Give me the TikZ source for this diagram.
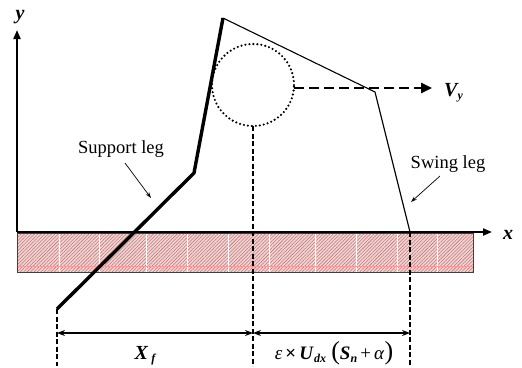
\documentclass[tikz,border=0pt]{standalone}
\usepackage{fontspec}
\setmainfont{Liberation Serif}
\usetikzlibrary{positioning,arrows.meta,patterns.meta}
\definecolor{groundpink}{RGB}{240,212,212}
\definecolor{groundhatch}{RGB}{196,118,118}

\tikzset{
  axis/.style={line width=2pt,-{Triangle[length=9pt,width=7pt]}},
  legline/.style={line width=3.4pt},
  bodyline/.style={line width=1.1pt},
  dropline/.style={line width=1.3pt,dash pattern=on 5pt off 2.5pt},
  dimline/.style={line width=1.2pt,{Stealth[length=8pt,width=6pt]}-{Stealth[length=8pt,width=6pt]}},
  pointer/.style={line width=0.7pt,-{Stealth[length=6pt,width=4pt]}},
  mathlab/.style={font=\fontsize{20}{22}\selectfont\bfseries\itshape},
  leglab/.style={font=\fontsize{18.5}{20}\selectfont}
}
\newcommand{\lowsub}[1]{\raisebox{-0.35ex}{\fontsize{12}{12}\selectfont #1}}

\begin{document}
\begin{tikzpicture}[x=1pt,y=-1pt]
  \useasboundingbox (0,0) rectangle (522,367);

  % ground
  \fill[groundpink] (17,233) rectangle (473,272);
  \fill[pattern={Lines[angle=45,distance=2.4pt,line width=0.55pt]},pattern color=groundhatch]
    (17,233) rectangle (473,272);
  \foreach \gx in {59,99,146,187,228,269,315,356,397,437}
    \draw[white,line width=1pt] (\gx,233) -- (\gx,272);
  \draw[red!40,line width=0.8pt] (17,266) -- (473,266);
  \draw[black!75,line width=0.9pt] (17,233) rectangle (473,272);

  % axes
  \coordinate (o) at (17,232);
  \coordinate (xend) at (492,232);
  \coordinate (yend) at (17,30);
  \draw[axis] (o) -- (xend);
  \draw[axis] (o) -- (yend);
  \node[mathlab,anchor=base] (xlab) at (508,239) {x};
  \node[mathlab,anchor=base] (ylab) at (20,19) {y};

  % legs
  \coordinate (foot) at (57,309);
  \coordinate (knee) at (194,173);
  \coordinate (hip) at (223,18);
  \coordinate (sknee) at (375,92);
  \coordinate (sfoot) at (410,232);
  \draw[legline] (foot) -- (knee) -- (hip);
  \draw[bodyline] (hip) -- (sknee) -- (sfoot);

  % centre of mass and velocity
  \coordinate (com) at (253,85);
  \draw[line width=2.4pt,line cap=round,dash pattern=on 0pt off 4pt] (com) circle[radius=41pt];
  \coordinate (comE) at (294,88);
  \coordinate (vend) at (432,88);
  \draw[line width=2.6pt,dash pattern=on 10pt off 5pt,-{Triangle[length=11pt,width=10pt]}] (comE) -- (vend);
  \node[mathlab,anchor=base west,inner sep=0pt] (vlab) at (444,96) {V\lowsub{y}};

  % drop lines and dimensions
  \coordinate (comS) at (253,126);
  \coordinate (d1) at (57,366);
  \coordinate (d2) at (253,366);
  \coordinate (d3) at (410,366);
  \draw[dropline] (comS) -- (d2);
  \draw[dropline] (foot) -- (d1);
  \draw[dropline] (sfoot) -- (d3);
  \coordinate (m1) at (57,333);
  \coordinate (m2) at (253,333);
  \coordinate (m3) at (410,333);
  \draw[dimline] (m1) -- (m2);
  \draw[dimline] (m2) -- (m3);
  \node[mathlab,anchor=base] (xflab) at (145,359) {X\,\lowsub{f}};
  \node[anchor=base,font=\fontsize{19}{22}\selectfont] (steplab) at (334,359)
    {\textit{ε}\,\textbf{×}\,\textbf{\textit{U}}\lowsub{\textbf{\textit{dx}}}\;{\fontsize{26}{26}\selectfont(}\textbf{\textit{S}}\lowsub{\textbf{\textit{n}}}\,+\,\textit{α}{\fontsize{26}{26}\selectfont)}};

  % leg labels
  \node[leglab,anchor=base] (suplab) at (121,153) {Support leg};
  \node[leglab,anchor=base] (swlab) at (448,168) {Swing leg};
  \coordinate (supA) at (125,163);
  \coordinate (supB) at (151,198);
  \coordinate (swA) at (440,176);
  \coordinate (swB) at (411,202);
  \draw[pointer] (supA) -- (supB);
  \draw[pointer] (swA) -- (swB);
\end{tikzpicture}
\end{document}
